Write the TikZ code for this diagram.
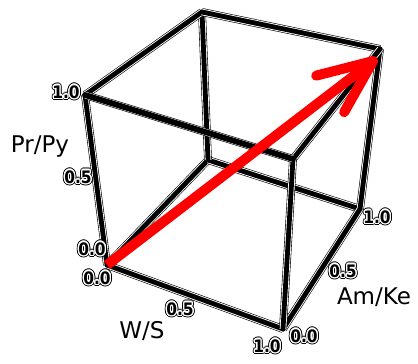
\documentclass[tikz,border=0pt]{standalone}
\usepackage{fontspec}
\setmainfont{DejaVu Sans}
\newfontfamily\tickfont{DejaVu Sans Condensed}
\usepackage{contour}
\usetikzlibrary{arrows.meta}
\newcommand{\haloed}[1]{\rlap{\contourlength{1.1pt}\contour{black}{#1}}\contourlength{0.6pt}\contour{white}{#1}}

\begin{document}
\begin{tikzpicture}[
  x=0.5pt, y=-0.5pt,
  edge/.style={line width=2.4pt, line cap=round, line join=round,
               preaction={draw, black, line width=3.9pt},
               preaction={draw, white, line width=3.3pt}},
  tick/.style={font=\tickfont\bfseries\fontsize{8.6}{9}\selectfont, inner sep=0pt},
  axis/.style={font=\fontsize{11.5}{12}\selectfont, inner sep=0pt},
  vec/.style={red, line width=5pt,
              -{Straight Barb[length=27pt, width=23pt, line cap=round, line join=round]}},
]
  \useasboundingbox (0,0) rectangle (418,364);

  % Corners of the cube
  \coordinate (o)   at (107,265);
  \coordinate (ws)  at (283,329);
  \coordinate (wam) at (360,209);
  \coordinate (am)  at (208,160);
  \coordinate (pr)  at (85,95);
  \coordinate (wpr) at (293,159);
  \coordinate (all) at (380,49);
  \coordinate (apr) at (202,12);

  % Hidden edges first
  \draw[edge] (o) -- (am);
  \draw[edge] (am) -- (wam);
  \draw[edge] (am) -- (apr);

  % Remaining edges
  \draw[edge] (pr) -- (apr);
  \draw[edge] (apr) -- (all);
  \draw[edge] (all) -- (wam);
  \draw[edge] (wam) -- (ws);
  \draw[edge] (o) -- (ws);
  \draw[edge] (o) -- (pr);
  \draw[edge] (wpr) -- (all);
  \draw[edge] (wpr) -- (ws);
  \draw[edge, line width=2.9pt] (pr) -- (wpr);

  % Tick labels
  \node[tick] (pr10) at (66,93)  {\haloed{1.0}};
  \node[tick] (pr05) at (78,178) {\haloed{0.5}};
  \node[tick] (pr00) at (92,250) {\haloed{0.0}};
  \node[tick] (ws00) at (97,279) {\haloed{0.0}};
  \node[tick] (ws05) at (180,310) {\haloed{0.5}};
  \node[tick] (ws10) at (267,347) {\haloed{1.0}};
  \node[tick] (am00) at (304,337) {\haloed{0.0}};
  \node[tick] (am05) at (343,272) {\haloed{0.5}};
  \node[tick] (am10) at (377,218) {\haloed{1.0}};

  % Axis names
  \node[axis] (prpy) at (40,147)  {Pr/Py};
  \node[axis] (wsl)  at (142,331) {W/S};
  \node[axis] (amke) at (374,297) {Am/Ke};

  % Vector
  \coordinate (tip) at (377,58);
  \draw[vec] (o) -- (tip);
\end{tikzpicture}
\end{document}
